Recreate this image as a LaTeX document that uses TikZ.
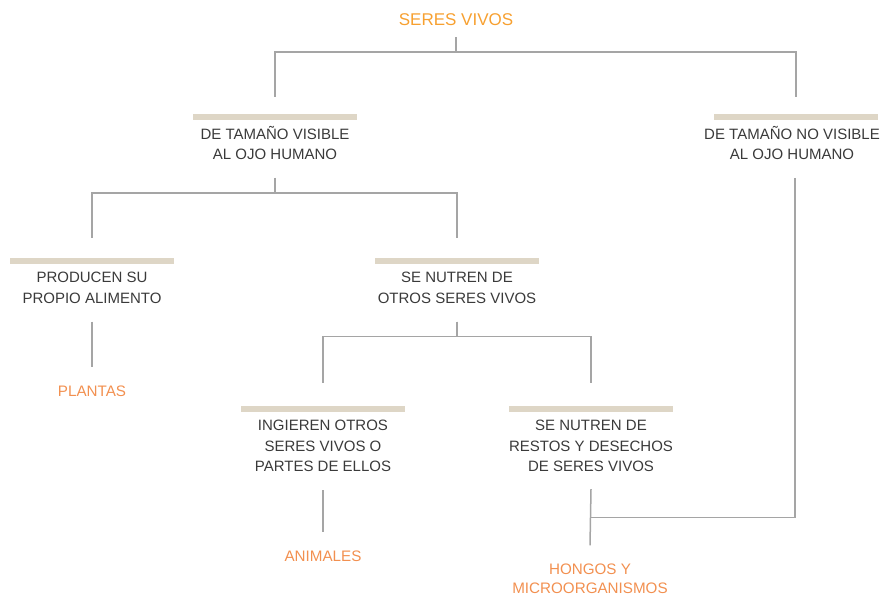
\documentclass[tikz,border=0pt]{standalone}
\usepackage{fontspec}
\setmainfont{Liberation Sans}
\usetikzlibrary{positioning}
\definecolor{titleorange}{HTML}{F7A030}
\definecolor{leaforange}{HTML}{F29050}
\definecolor{barbeige}{HTML}{DED6C6}
\definecolor{linegray}{HTML}{A5A5A5}
\definecolor{textgray}{HTML}{3A3A3A}
\tikzset{
  bar/.style={fill=barbeige, minimum width=164pt, minimum height=6pt, inner sep=0pt},
  txt/.style={text=textgray, align=center, inner sep=0pt, font=\fontsize{15}{20.5}\selectfont},
  leaf/.style={text=leaforange, align=center, inner sep=0pt, font=\fontsize{15.2}{19}\selectfont},
  link/.style={draw=linegray, line width=1.5pt},
}
\begin{document}
\begin{tikzpicture}[x=1pt,y=-1pt]
\useasboundingbox (0,0) rectangle (883,595);

\node[txt, text=titleorange, font=\fontsize{17}{20}\selectfont] (root) at (456,20) {SERES VIVOS};

% bars
\node[bar] (b1) at (275,117) {};
\node[bar] (b2) at (796,117) {};
\node[bar] (b3) at (92,261) {};
\node[bar] (b4) at (457,261) {};
\node[bar] (b5) at (323,409) {};
\node[bar] (b6) at (591,409) {};

% texts
\node[txt, below=5.5pt of b1] (t1) {DE TAMAÑO VISIBLE\\AL OJO HUMANO};
\node[txt, below=5.5pt of b2, xshift=-4pt] (t2) {DE TAMAÑO NO VISIBLE\\AL OJO HUMANO};
\node[txt, below=8pt of b3] (t3) {PRODUCEN SU\\PROPIO ALIMENTO};
\node[txt, below=8pt of b4] (t4) {SE NUTREN DE\\OTROS SERES VIVOS};
\node[txt, below=8pt of b5] (t5) {INGIEREN OTROS\\SERES VIVOS O\\PARTES DE ELLOS};
\node[txt, below=8pt of b6] (t6) {SE NUTREN DE\\RESTOS Y DESECHOS\\DE SERES VIVOS};

% leaves
\node[leaf] (plantas) at (92,391) {PLANTAS};
\node[leaf] (animales) at (323,556) {ANIMALES};
\node[leaf] (hongos) at (590,578.5) {HONGOS Y\\MICROORGANISMOS};

% connectors
\draw[link] (root.south) ++(0,11) -- ++(0,15) -| ([yshift=17pt]b1.north);
\draw[link] (root.south) ++(0,11) -- ++(0,15) -| ([yshift=17pt]b2.north);
\draw[link] ([yshift=-18pt]t1.south) -- ++(0,15) -| ([yshift=20pt]b3.north);
\draw[link] ([yshift=-18pt]t1.south) -- ++(0,15) -| ([yshift=20pt]b4.north);
\draw[link] ([yshift=-18pt]t3.south) -- ([yshift=18pt]plantas.north);
\draw[link] ([yshift=-18pt]t4.south) -- ++(0,15) -| ([yshift=23pt]b5.north);
\draw[link] ([yshift=-18pt]t4.south) -- ++(0,15) -| ([yshift=23pt]b6.north);
\draw[link] ([yshift=-18pt]t5.south) -- ([yshift=18pt]animales.north);
\draw[link] ([yshift=-17pt]t6.south) -- coordinate[pos=0.5] (join) ([yshift=18pt]hongos.north);
\draw[link] ([yshift=-18pt,xshift=3pt]t2.south) |- (join);
\end{tikzpicture}
\end{document}
